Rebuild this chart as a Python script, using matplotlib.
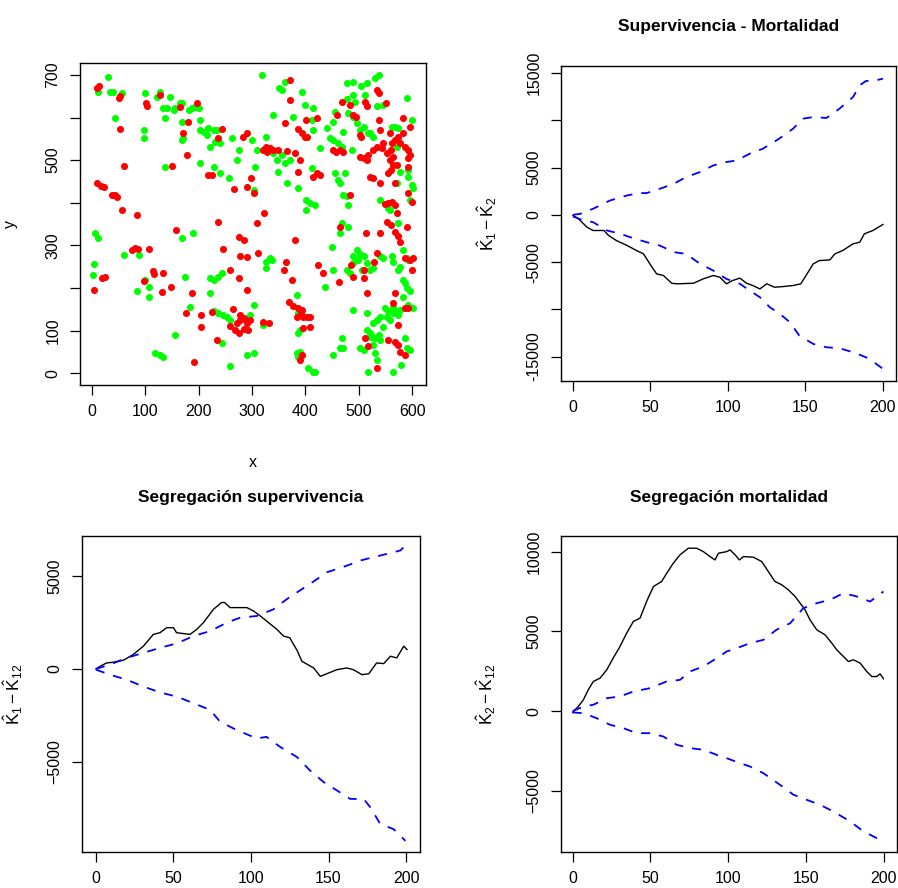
import matplotlib
matplotlib.use("Agg")
import matplotlib.pyplot as plt

plt.rcParams['font.family'] = ['Liberation Sans', 'DejaVu Sans']
plt.rcParams['mathtext.fontset'] = 'custom'
plt.rcParams['mathtext.rm'] = 'Liberation Sans'
plt.rcParams['mathtext.it'] = 'Liberation Sans'

# puntos de supervivencia (verde) y mortalidad (rojo)
verde = [
    (11, 661), (30, 695), (34, 661), (40, 661), (56, 657), (44, 598), (97, 571), (98, 551), (100, 657),
    (122, 649), (128, 661), (134, 622), (140, 622), (137, 598), (147, 649), (153, 618), (156, 622),
    (165, 633), (168, 633), (168, 590), (171, 551), (168, 547), (181, 618), (187, 622), (193, 625),
    (200, 622), (203, 594), (203, 571), (209, 567), (215, 559), (218, 575), (228, 571), (234, 571),
    (221, 532), (231, 543), (240, 540), (228, 485), (240, 469), (256, 458), (262, 551), (275, 524),
    (271, 500), (203, 493), (137, 485), (300, 547), (309, 524), (306, 485), (303, 430), (318, 700),
    (340, 606), (350, 669), (356, 665), (362, 684), (377, 602), (393, 661), (400, 630), (415, 622),
    (412, 594), (415, 571), (427, 528), (440, 575), (446, 551), (452, 590), (455, 614),
    (477, 680), (490, 684), (490, 653), (477, 643), (493, 637), (505, 673), (515, 680), (512, 653),
    (530, 692), (537, 700), (534, 626), (546, 630), (480, 610), (490, 602), (496, 587), (502, 571),
    (509, 579), (518, 563), (527, 555), (521, 563), (487, 524), (471, 567), (452, 547), (462, 540),
    (468, 532), (340, 516), (346, 500), (349, 473), (356, 512), (362, 493), (371, 500), (327, 555),
    (365, 446), (387, 434), (412, 481), (455, 469), (462, 453), (465, 446), (474, 469), (471, 418),
    (477, 415), (480, 395), (402, 407), (408, 400), (418, 395), (402, 383), (540, 407), (555, 387),
    (559, 383), (574, 352), (571, 446), (577, 473), (593, 461), (596, 407), (599, 442), (602, 435),
    (593, 477), (574, 575), (568, 579), (562, 579), (590, 645), (599, 594), (571, 532),
    (465, 328), (468, 352), (449, 297), (496, 289), (502, 281), (509, 274), (499, 266), (515, 258),
    (506, 242), (490, 274), (490, 258), (477, 242), (483, 235), (521, 242), (527, 246), (540, 274),
    (546, 270), (562, 274), (565, 262), (574, 242), (577, 250), (583, 289), (590, 270), (593, 266),
    (480, 344), (452, 242), (437, 203), (490, 149), (515, 141), (527, 117), (534, 125), (540, 133),
    (546, 109), (549, 152), (555, 145), (565, 156), (568, 145), (574, 137), (577, 149), (552, 133),
    (559, 125), (565, 141), (583, 219), (586, 211), (590, 199), (596, 192), (593, 160), (602, 152),
    (583, 180), (515, 102), (521, 94), (527, 86), (521, 86), (530, 82), (537, 90), (540, 78), (527, 66),
    (530, 47), (534, 31), (518, 4), (502, 59), (509, 55), (468, 82), (471, 59), (465, 59), (452, 43),
    (565, 4), (580, 20), (586, 82), (590, 59), (596, 55),
    (405, 12), (415, 4), (418, 4), (384, 47), (387, 39), (390, 51), (387, 94), (390, 102), (387, 141),
    (393, 137), (384, 184), (327, 262), (334, 270), (337, 266), (327, 246), (287, 125), (296, 137),
    (303, 160), (290, 43), (303, 47), (321, 113), (259, 16), (243, 70), (221, 223), (228, 219),
    (237, 227), (243, 235), (228, 145), (237, 141), (246, 137), (253, 133), (259, 125), (221, 188),
    (184, 156), (156, 90), (119, 47), (128, 43), (134, 39), (175, 227), (168, 317), (190, 328),
    (107, 180), (107, 203), (100, 219), (84, 192), (60, 278), (89, 278), (3, 257), (2, 231), (6, 328),
    (11, 317),
]
rojo = [
    (14, 675), (9, 670), (50, 645), (53, 650), (101, 635), (103, 628), (128, 653), (165, 625), (196, 633),
    (180, 590), (170, 563), (52, 572), (243, 572), (236, 551), (290, 563), (283, 555), (178, 512),
    (60, 487), (150, 487), (218, 465), (224, 465), (9, 446), (16, 440), (22, 438), (37, 418), (43, 418),
    (47, 414), (56, 382), (85, 371), (3, 195), (19, 223), (25, 227), (75, 290), (81, 293), (87, 292),
    (106, 292), (98, 217), (115, 240), (116, 234), (134, 235), (132, 190), (148, 203), (158, 335),
    (236, 356), (246, 292), (259, 242), (275, 223), (188, 188), (176, 141), (205, 137), (225, 143),
    (205, 108), (235, 78), (192, 27),
    (265, 150), (278, 137), (290, 117), (271, 117), (284, 105), (293, 101), (259, 110), (278, 125),
    (296, 125), (268, 101), (285, 130), (275, 95),
    (290, 195), (321, 121), (331, 117), (267, 432), (290, 438), (303, 422), (298, 458), (275, 319),
    (284, 313), (278, 274), (290, 272), (312, 282), (309, 352), (322, 375),
    (327, 532), (321, 524), (334, 528), (340, 524), (328, 520), (349, 524), (365, 522), (380, 516),
    (390, 500), (362, 587), (371, 641), (371, 688), (386, 572), (393, 563), (399, 555), (403, 555),
    (402, 594), (421, 598), (387, 473), (421, 469), (427, 465), (415, 461),
    (364, 262), (360, 242), (375, 219), (381, 313),
    (370, 168), (376, 157), (386, 153), (392, 141), (396, 133), (403, 133), (385, 133), (393, 149),
    (409, 133), (396, 106), (409, 109), (393, 43), (390, 31),
    (424, 254), (433, 235), (463, 215), (465, 344), (483, 418), (486, 254), (490, 227), (509, 224),
    (513, 328), (515, 188), (512, 82), (518, 63), (534, 12), (534, 282), (528, 262), (509, 242),
    (459, 606), (468, 637), (483, 630), (489, 606), (495, 602), (512, 637), (515, 626), (502, 559),
    (505, 555), (534, 665), (537, 657), (537, 594), (540, 571), (551, 634), (558, 563), (583, 598),
    (596, 579), (583, 563), (574, 555), (568, 547), (562, 540),
    (452, 524), (458, 520), (465, 524), (471, 520), (502, 508), (509, 504), (515, 500), (518, 512),
    (527, 524), (534, 532), (543, 528), (546, 540), (552, 516), (558, 500), (561, 524), (565, 508),
    (577, 540), (586, 532), (593, 524), (596, 512), (593, 505), (593, 485), (565, 489), (571, 489),
    (561, 477), (555, 469), (521, 461), (527, 458), (540, 446), (568, 446), (593, 422), (599, 403),
    (549, 398), (555, 400), (562, 403), (568, 395), (571, 375), (552, 356), (561, 348), (567, 332),
    (574, 321), (577, 309), (590, 344), (540, 328), (587, 270), (596, 266), (602, 270), (599, 242),
    (568, 188), (565, 164), (586, 153), (593, 153), (574, 113), (555, 78), (568, 74), (574, 66),
    (577, 51), (586, 43),
]

# Supervivencia - Mortalidad: K1 - K2 y envolventes
r_sm = [0, 3.6, 9, 13, 20, 23, 28, 35, 41, 45.5, 51, 54, 58.4, 63.7, 67, 77.7, 84, 90.5, 94.8, 99, 103,
        107.7, 112, 116, 120.6, 125, 130, 135.6, 142, 147, 151.7, 155, 159, 165.7, 169, 174, 180.7, 185,
        188, 193.5, 200]
k_sm = [-70, -420, -1300, -1660, -1660, -2190, -2720, -3250, -3780, -4130, -5540, -6250, -6420, -7240,
        -7300, -7240, -6780, -6420, -6600, -7300, -6950, -6700, -7240, -7480, -7840, -7300, -7660, -7590,
        -7480, -7300, -6070, -5190, -4840, -4770, -4130, -3780, -3070, -2900, -2010, -1660, -1020]
r_sm_hi = [0, 4.7, 13, 24, 35, 43, 47.6, 56, 65, 73, 82, 90.5, 99, 105.6, 114, 122.5, 133, 142, 148.5,
           155, 163.5, 172, 180.7, 185, 189, 195.7, 200]
hi_sm = [0, 100, 640, 1520, 2050, 2300, 2300, 2750, 3280, 3990, 4520, 5220, 5580, 5750, 6460, 6990,
         8050, 9110, 10170, 10340, 10240, 11230, 12460, 13700, 14150, 14230, 14400]
r_sm_lo = [0, 6.9, 13, 22, 30.5, 37, 47.6, 56, 65, 73, 82, 90.5, 99, 107.7, 114, 120.6, 127, 133.5, 140,
           146, 155, 163.5, 172, 180.7, 189, 195.7, 200]
lo_sm = [-180, -600, -780, -1660, -2010, -2370, -2900, -3250, -3950, -4130, -5190, -5900, -6780, -7300,
         -8010, -8720, -9780, -10480, -11370, -12780, -13660, -14010, -14120, -14540, -15070, -15780, -16300]

# Segregacion supervivencia: K1 - K12
r_ss = [0, 2.6, 6.9, 11, 17.7, 24, 30.6, 37, 41.3, 45.6, 50, 52, 60.7, 65, 69.3, 75.8, 81, 83, 86.5, 93,
        97.3, 101.6, 106, 110, 116.7, 121, 125, 130, 132.8, 140.4, 144.7, 149, 155.4, 161.9, 166, 171.6,
        176, 181, 185.6, 189.9, 194, 198.5, 200.6]
k_ss = [0, 144, 325, 360, 470, 776, 1227, 1860, 1950, 2220, 2220, 1950, 1860, 2130, 2490, 3210, 3574,
        3574, 3300, 3300, 3300, 3120, 2850, 2580, 2130, 1770, 1680, 957, 415, 54, -397, -253, -36, 54,
        -36, -307, -253, 325, 289, 686, 595, 1227, 1047]
r_ss_hi = [0, 9, 19.8, 30.6, 41.3, 52, 62.9, 73.6, 84.4, 93, 103.8, 114.5, 123, 129.6, 138, 149, 162,
           170.5, 179, 187.7, 196.3, 198.5]
hi_ss = [0, 235, 596, 866, 1137, 1372, 1769, 2040, 2490, 2760, 2850, 3210, 3750, 4115, 4570, 5200, 5560,
         5830, 6010, 6190, 6370, 6550]
r_ss_lo = [0, 9, 19.8, 30.6, 41.3, 52, 62.9, 73.6, 80, 90.8, 103.8, 110, 118.8, 129.6, 138, 146.8,
           155.4, 164, 172.6, 177, 183.4, 192, 199.6]
lo_ss = [-36, -307, -578, -940, -1264, -1480, -1840, -2200, -2830, -3285, -3736, -3650, -4190, -4730,
         -5450, -6080, -6530, -6985, -6985, -7440, -8340, -8610, -9240]

# Segregacion mortalidad: K2 - K12
r_sg = [0, 3.6, 6.9, 10, 13.3, 17.6, 21.9, 26, 30.4, 34.7, 39, 43.3, 48, 51.9, 57.2, 60.5, 64.7, 69, 74.4,
        79.7, 84, 88.3, 91.5, 93.7, 99, 101.2, 104.4, 107.2, 109.8, 116.2, 121.5, 125.8, 130, 134.4,
        138.7, 143, 146.2, 149.4, 152.6, 156.9, 162.3, 166.6, 169.8, 174, 177.3, 180.5, 184.8, 189,
        192.3, 195.5, 197.6, 199.8]
k_sg = [-63, 292, 710, 1336, 1860, 2070, 2590, 3320, 4050, 4890, 5620, 5830, 6980, 7810, 8130, 8650,
        9275, 9800, 10215, 10215, 10000, 9690, 9480, 9900, 10000, 10110, 9800, 9480, 9690, 9650, 9380,
        8750, 8130, 7920, 7600, 7190, 6770, 6350, 5720, 5100, 4780, 4260, 3840, 3430, 3110, 3220, 3010,
        2490, 2170, 2170, 2340, 2030]
r_sg_hi = [0, 6.9, 13.3, 21.9, 30.4, 39, 49.7, 60.4, 69, 75.5, 84, 92.6, 99, 105.5, 114, 122.6, 131,
           139.8, 148.3, 157, 165.5, 174, 182.6, 191.2, 199.8]
hi_sg = [0, 290, 400, 810, 920, 1230, 1440, 1860, 1960, 2490, 2800, 3320, 3740, 3950, 4260, 4470, 5100,
         5510, 6455, 6770, 6980, 7395, 7190, 6870, 7500]
r_sg_lo = [0, 6.9, 15.4, 24, 32.6, 41, 49.7, 58.3, 66.9, 75.5, 84, 92.6, 99, 107.6, 114, 122.6, 133.3,
           141.9, 150.5, 159, 167.6, 178.3, 186.9, 195.5, 197.6]
lo_sg = [-84, -125, -440, -855, -1065, -1380, -1380, -1590, -2110, -2320, -2420, -2740, -2950, -3260,
         -3470, -3890, -4620, -5240, -5560, -5870, -6290, -6910, -7540, -7960, -7850]

W, H = 898, 888
fig = plt.figure(figsize=(W / 100, H / 100), dpi=100)


def caja(izq, arriba, der, abajo):
    # ejes a partir de la caja en pixeles
    return fig.add_axes([izq / W, 1 - abajo / H, (der - izq) / W, (abajo - arriba) / H])


def estilo(ax):
    for s in ax.spines.values():
        s.set_linewidth(1.0)
    ax.tick_params(axis='both', direction='out', length=7, width=0.9, labelsize=11.5, pad=7)
    for lab in ax.get_yticklabels():
        lab.set_rotation(90)
        lab.set_va('center')


def curvas(ax, r, k, rh, hi, rl, lo):
    ax.plot(r, k, color='black', lw=1.0)
    ax.plot(rh, hi, color='#0000FF', lw=1.3, dashes=(5, 5))
    ax.plot(rl, lo, color='#0000FF', lw=1.3, dashes=(5, 5))
    ax.set_xticks([0, 50, 100, 150, 200])


def titulo(ax, txt, dy):
    ax.text(0.5, 1 + dy, txt, transform=ax.transAxes, ha='center', va='center',
            fontsize=12.5, fontweight='bold')


# mapa de puntos
ax1 = caja(80, 63, 426, 385)
ax1.scatter([p[0] for p in verde], [p[1] for p in verde], s=26, color='#00FF00', marker='o', linewidths=0)
ax1.scatter([p[0] for p in rojo], [p[1] for p in rojo], s=26, color='#FF0000', marker='o', linewidths=0)
ax1.set_xlim(-22.5, 626)
ax1.set_ylim(-27.5, 728)
ax1.set_xticks(range(0, 700, 100))
ax1.set_yticks(range(0, 800, 100))
ax1.set_yticklabels(['0', '100', '', '300', '', '500', '', '700'])
estilo(ax1)
ax1.set_xlabel('x', fontsize=11.5)
ax1.set_ylabel('y', fontsize=11.5)
ax1.xaxis.set_label_coords(0.5, -0.217)
ax1.yaxis.set_label_coords(-0.179, 0.5)

ax2 = caja(561, 66, 896, 381)
curvas(ax2, r_sm, k_sm, r_sm_hi, hi_sm, r_sm_lo, lo_sm)
ax2.set_xlim(-7.7, 208.4)
ax2.set_ylim(-17580, 15740)
ax2.set_yticks([-15000, -10000, -5000, 0, 5000, 10000, 15000])
ax2.set_yticklabels(['-15000', '', '-5000', '0', '5000', '', '15000'])
estilo(ax2)
ax2.set_ylabel(r'$\hat{\mathrm{K}}_1 - \hat{\mathrm{K}}_2$', fontsize=12.5)
ax2.yaxis.set_label_coords(-0.185, 0.5)
titulo(ax2, 'Supervivencia - Mortalidad', 40 / 315)

ax3 = caja(82, 536, 420, 852)
curvas(ax3, r_ss, k_ss, r_ss_hi, hi_ss, r_ss_lo, lo_ss)
ax3.set_xlim(-9, 209)
ax3.set_ylim(-9840, 7150)
ax3.set_yticks([-5000, 0, 5000])
estilo(ax3)
ax3.set_ylabel(r'$\hat{\mathrm{K}}_1 - \hat{\mathrm{K}}_{12}$', fontsize=12.5)
ax3.yaxis.set_label_coords(-0.169, 0.5)
titulo(ax3, 'Segregación supervivencia', 39 / 316)

ax4 = caja(561, 536, 897, 852)
curvas(ax4, r_sg, k_sg, r_sg_hi, hi_sg, r_sg_lo, lo_sg)
ax4.set_xlim(-7.5, 208.5)
ax4.set_ylim(-8830, 10980)
ax4.set_yticks([-5000, 0, 5000, 10000])
estilo(ax4)
ax4.set_ylabel(r'$\hat{\mathrm{K}}_2 - \hat{\mathrm{K}}_{12}$', fontsize=12.5)
ax4.yaxis.set_label_coords(-0.188, 0.5)
titulo(ax4, 'Segregación mortalidad', 39 / 316)

fig.savefig('out.png', dpi=100)
